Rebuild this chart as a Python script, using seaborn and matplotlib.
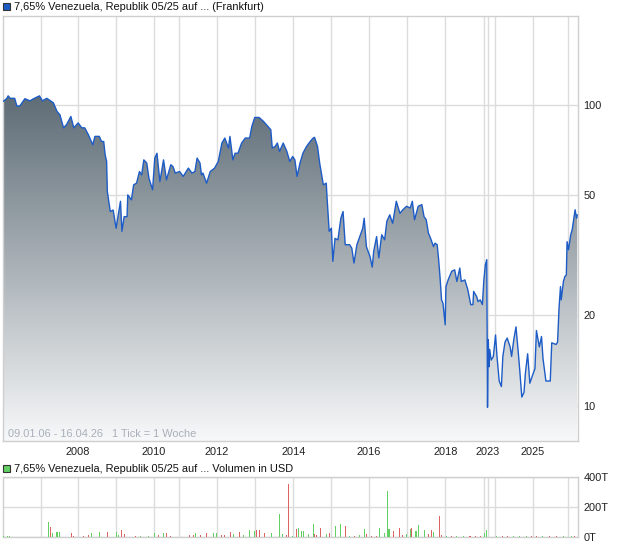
import matplotlib
matplotlib.use('Agg')
import matplotlib.pyplot as plt
from matplotlib.patches import Rectangle
from matplotlib.ticker import NullLocator, FixedLocator
import numpy as np
import pandas as pd
import seaborn as sns

# x axis = trading week index (1 Tick = 1 Woche), weeks without quotes are skipped
year_ticks = [52, 103, 155, 207, 241, 293, 346, 398, 450, 501, 553, 606, 659, 664, 674, 726, 774]
year_labels = ['', '2008', '', '2010', '', '2012', '', '2014', '', '2016', '', '2018',
               '', '2023', '', '2025', '']
n_weeks = 788

price_week = [0, 5, 7, 10, 16, 19, 23, 30, 37, 42,
              50, 54, 60, 69, 74, 78, 83, 87, 93, 97,
              103, 108, 112, 117, 123, 126, 132, 135, 138, 140,
              142, 143, 147, 151, 155, 158, 161, 163, 166, 170,
              171, 176, 179, 183, 187, 190, 193, 197, 200, 205,
              208, 211, 215, 220, 224, 230, 233, 236, 242, 247,
              254, 259, 263, 266, 270, 272, 274, 279, 284, 290,
              295, 300, 304, 309, 311, 315, 318, 322, 327, 332,
              338, 341, 345, 351, 357, 363, 367, 369, 373, 376,
              379, 384, 389, 393, 397, 400, 403, 407, 411, 416,
              421, 425, 427, 431, 434, 439, 443, 444, 447, 450,
              452, 455, 459, 463, 466, 469, 475, 478, 481, 485,
              489, 493, 495, 498, 503, 506, 508, 512, 515, 519,
              523, 526, 530, 534, 539, 544, 548, 553, 558, 561,
              564, 569, 574, 577, 580, 583, 586, 590, 592, 595,
              597, 599, 601, 603, 606, 607, 610, 615, 619, 622,
              626, 628, 633, 637, 641, 644, 645, 649, 651, 654,
              657, 659, 661, 663, 664, 665, 666, 667, 669, 672,
              675, 677, 680, 683, 685, 688, 691, 695, 697, 700,
              703, 706, 708, 711, 714, 716, 719, 722, 725, 729,
              731, 735, 738, 740, 744, 750, 752, 758, 760, 762,
              764, 765, 768, 770, 772, 773, 775, 778, 780, 782,
              784, 786, 787]
price_close = [102.5, 104.7, 107, 105, 105, 99, 99, 104.7, 103, 104.7,
               107, 103, 105, 101.5, 95, 92.6, 83.8, 85.8, 91.4, 83.8,
               87, 83.8, 83.8, 79.5, 73.6, 78.5, 78.5, 75.5, 75.5, 68.2,
               64.8, 51.5, 44.2, 44.7, 38.9, 43.1, 47.8, 38, 42.5, 42.5,
               50.2, 48.3, 54.2, 54.9, 60, 58.5, 65.6, 64, 57, 52.2,
               66.5, 69, 55.6, 65.6, 56.3, 63.2, 62.3, 59.3, 60, 57.8,
               61.6, 59.3, 60, 66.5, 64, 58.5, 59.3, 54.9, 60, 61.6,
               64.8, 74.6, 77.5, 71.8, 78.5, 65.6, 69, 69, 74.6, 77.5,
               77.5, 84.7, 90.7, 90.7, 88, 84.7, 82.6, 71.8, 72.7, 74.6,
               70, 74.6, 70, 64.8, 67.3, 65.6, 57.8, 64, 69, 72.7,
               75.5, 77.5, 77.9, 72.7, 64, 54.2, 54.9, 49.6, 38, 38.9,
               30.2, 36, 35.6, 42, 44.2, 34.3, 34.3, 33.4, 29.8, 34.3,
               36.5, 38.9, 42, 33.8, 31.3, 28.9, 32.6, 36.5, 31, 37,
               35.6, 41, 43.1, 40.4, 47.8, 43.6, 44.8, 46, 45.4, 47.8,
               41.5, 46, 46.6, 42.5, 41.5, 37.5, 36, 33.8, 34.7, 34.3,
               30.6, 26.6, 22.5, 21.9, 18.6, 24.9, 26.2, 28, 28.3, 25.9,
               28.7, 25.9, 26.2, 24.3, 21.7, 21.7, 24, 23.1, 22.2, 22.5,
               21.7, 26.2, 29.4, 30.6, 9.9, 16.6, 13.5, 15.4, 14.2, 14.6,
               17.2, 14.6, 12.1, 11.6, 14.6, 16.3, 16.8, 15.7, 14.6, 16.6,
               18.3, 15.2, 13.3, 10.7, 11.1, 12.9, 14.9, 11.9, 12.5, 13.3,
               17.8, 15.7, 17, 14.4, 12.1, 12.1, 16.2, 16, 16.3, 21.1,
               24.9, 22.5, 25.9, 26.9, 27.2, 35.1, 33, 37, 38.4, 41.5,
               44.8, 42, 43.1]

# weekly volume in thousand USD, up = green week, down = red week
vol_week = [0, 6, 9, 62, 63, 65, 68, 74, 78, 94, 96, 110, 117, 121, 132, 143, 155, 158,
            163, 166, 181, 188, 199, 207, 213, 220, 224, 230, 256, 261, 264, 270, 279,
            288, 293, 300, 304, 312, 316, 324, 329, 338, 344, 348, 352, 359, 368, 379,
            383, 388, 391, 397, 402, 405, 409, 412, 418, 425, 427, 430, 435, 443, 448,
            456, 462, 469, 475, 482, 489, 495, 498, 505, 512, 516, 523, 527, 529, 535,
            543, 548, 553, 558, 560, 566, 569, 577, 583, 587, 590, 598, 601, 608, 615,
            622, 631, 640, 647, 654, 660, 663, 676, 685, 692, 700, 708, 717, 724, 731,
            740, 749, 758, 768, 779, 783]
vol_amount = [10, 10, 10, 66, 97, 66, 30, 35, 35, 27, 10, 10, 15, 25, 35, 35, 35, 15,
              50, 20, 8, 5, 10, 25, 15, 25, 25, 8, 15, 15, 25, 12, 25,
              25, 30, 15, 12, 35, 20, 35, 12, 47, 42, 50, 50, 25, 25, 156,
              20, 15, 353, 8, 52, 57, 37, 38, 20, 89, 20, 15, 58, 18, 30,
              72, 85, 76, 10, 10, 12, 56, 18, 10, 10, 63, 30, 308, 56, 40,
              60, 15, 22, 56, 62, 40, 78, 45, 20, 50, 31, 139, 12, 8, 6,
              8, 8, 6, 5, 8, 25, 45, 5, 6, 8, 5, 10, 8, 6, 5,
              6, 6, 5, 6, 8, 8]
vol_up = [1, 1, 1, 0, 1, 0, 1, 1, 1, 0, 0, 0, 0, 1, 1, 0, 1, 1,
          0, 0, 0, 1, 1, 1, 0, 1, 0, 0, 0, 0, 1, 0, 0,
          1, 1, 0, 0, 0, 1, 0, 1, 1, 1, 0, 0, 0, 1, 1,
          1, 0, 0, 1, 0, 1, 1, 1, 1, 1, 0, 0, 0, 1, 0,
          1, 1, 0, 1, 0, 1, 1, 0, 0, 0, 1, 1, 1, 1, 0,
          0, 0, 1, 1, 0, 1, 1, 1, 0, 0, 1, 0, 0, 1, 0,
          1, 1, 0, 0, 0, 1, 1, 1, 0, 0, 1, 1, 1, 0, 0,
          1, 0, 0, 1, 1, 0]

price = pd.DataFrame({'week': price_week, 'close': price_close})
vol = pd.DataFrame({'week': vol_week, 'amount': vol_amount, 'up': vol_up})

sns.set_style('white')
plt.rcParams['font.family'] = ['Liberation Sans', 'DejaVu Sans']

line_col = '#1d5cc6'
grid_col = '#dcdcdc'
edge_col = '#cfcfcf'
fs = 7.9
y_low, y_high = 7.65, 197

fig = plt.figure(figsize=(6.2, 5.46), dpi=100)
ax = fig.add_axes([3 / 620, 105 / 546, 575 / 620, 425 / 546])
axv = fig.add_axes([3 / 620, 9 / 546, 575 / 620, 60 / 546])

# price panel
ax.set_yscale('log')
ax.set_xlim(0, n_weeks)
ax.set_ylim(y_low, y_high)
ax.set_autoscale_on(False)

area = ax.fill_between(price['week'], price['close'], y_low,
                       facecolor='none', edgecolor='none')
frac = np.linspace(0, 1, 300)
t = np.clip(frac / 0.81, 0, 1)[:, None]
light = np.array([247, 248, 249]) / 255
dark = np.array([95, 109, 119]) / 255
grad = (light + (dark - light) * t)[:, None, :]
img = ax.imshow(grad, extent=[0, 1, 0, 1], transform=ax.transAxes, origin='lower',
                aspect='auto', zorder=1, interpolation='bilinear')
img.set_clip_path(area.get_paths()[0], ax.transData)

sns.lineplot(data=price, x='week', y='close', estimator=None,
             color=line_col, linewidth=1.0, ax=ax, zorder=3)

ax.set_xlim(0, n_weeks)
ax.set_ylim(y_low, y_high)
ax.xaxis.set_major_locator(FixedLocator(year_ticks))
ax.set_xticklabels(year_labels)
ax.set_yticks([10, 20, 50, 100])
ax.set_yticklabels(['10', '20', '50', '100'])
ax.yaxis.set_minor_locator(NullLocator())
ax.yaxis.tick_right()
ax.grid(True, color=grid_col, linewidth=1)
ax.set_axisbelow(True)
ax.tick_params(axis='y', length=0, pad=4, labelsize=fs, colors='#222222')
ax.tick_params(axis='x', length=2.5, width=0.8, color=edge_col, pad=1.5,
               labelsize=fs, labelcolor='#222222')
ax.set_xlabel('')
ax.set_ylabel('')
for s in ax.spines.values():
    s.set_color(edge_col)
    s.set_linewidth(1)
ax.text(0.009, 0.016, '09.01.06 - 16.04.26   1 Tick = 1 Woche', transform=ax.transAxes,
        fontsize=fs, color='#a9b0ba', va='center', ha='left', zorder=4)

# volume panel
colors = np.where(vol['up'] == 1, '#62d062', '#dd6262')
axv.bar(vol['week'], vol['amount'], width=1.4, color=colors, linewidth=0, zorder=3)
axv.set_xlim(0, n_weeks)
axv.set_ylim(0, 400)
axv.xaxis.set_major_locator(FixedLocator(year_ticks))
axv.set_xticklabels([])
axv.set_yticks([0, 200, 400])
axv.set_yticklabels(['0T', '200T', '400T'])
axv.yaxis.tick_right()
axv.grid(True, color=grid_col, linewidth=1)
axv.set_axisbelow(True)
axv.tick_params(axis='y', length=0, pad=4, labelsize=fs, colors='#222222')
axv.tick_params(axis='x', length=0)
for s in axv.spines.values():
    s.set_color(edge_col)
    s.set_linewidth(1)

# headers with colour squares
fig.add_artist(Rectangle((3 / 620, 1 - 10 / 546), 7 / 620, 7 / 546, transform=fig.transFigure,
                         facecolor=line_col, edgecolor='#333333', linewidth=0.8))
fig.text(13.5 / 620, 1 - 6.5 / 546, '7,65% Venezuela, Republik 05/25 auf ... (Frankfurt)',
         fontsize=fs, color='#111111', va='center', ha='left')
fig.add_artist(Rectangle((3 / 620, 1 - 472 / 546), 7 / 620, 7 / 546, transform=fig.transFigure,
                         facecolor='#62d062', edgecolor='#333333', linewidth=0.8))
fig.text(13.5 / 620, 1 - 468.5 / 546, '7,65% Venezuela, Republik 05/25 auf ... Volumen in USD',
         fontsize=fs, color='#111111', va='center', ha='left')

fig.savefig('out.png', dpi=100)
